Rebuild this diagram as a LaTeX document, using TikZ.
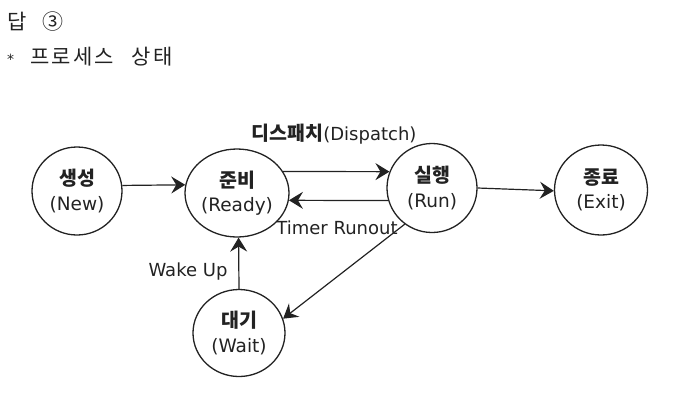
\documentclass[tikz,border=0pt]{standalone}
\usepackage{fontspec}
\setmainfont{DejaVu Sans}
\newfontfamily\kr{Noto Sans CJK KR}
\newfontfamily\krt[LetterSpace=10]{Noto Sans CJK KR}
\usetikzlibrary{shapes.geometric,arrows.meta}
\definecolor{ink}{HTML}{222222}
\tikzset{
  state/.style={ellipse, draw=ink, line width=1.3pt, align=center, inner sep=0pt, text=ink,
    font=\fontsize{18.5}{24.5}\selectfont},
  arr/.style={draw=ink, line width=1.2pt, -{Stealth[length=14pt,width=17pt,inset=5pt]}},
  lbl/.style={font=\fontsize{18}{20}\selectfont, inner sep=0pt, text=ink},
  ttl/.style={font=\krt\fontsize{21}{23}\selectfont, anchor=west, inner sep=0pt, text=ink}
}
\newcommand{\kbold}[1]{{\kr\bfseries\fontsize{19.5}{24.5}\selectfont #1}}
\begin{document}
\begin{tikzpicture}[x=1pt,y=-1pt]
\useasboundingbox (0,0) rectangle (674,416);
\node[ttl] (t1) at (7,22) {답\hspace{16pt}③};
\node[ttl] (t2) at (7,57) {\raisebox{0pt}{\fontsize{14}{14}\selectfont\rmfamily *}\hspace{16pt}프로세스\hspace{18pt}상태};

\node[state, minimum width=90pt, minimum height=88pt] (new) at (77,191) {\kbold{생성}\\(New)};
\node[state, minimum width=104pt, minimum height=88pt] (ready) at (237,193) {\kbold{준비}\\(Ready)};
\node[state, minimum width=90pt, minimum height=89pt] (run) at (432,188) {\kbold{실행}\\(Run)};
\node[state, minimum width=93pt, minimum height=90pt] (exit) at (601,190) {\kbold{종료}\\(Exit)};
\node[state, minimum width=92pt, minimum height=87pt] (wait) at (239,333) {\kbold{대기}\\(Wait)};

\draw[arr] (new.7) -- (ready.171);
\draw[arr] (ready.25) -- (run.159);
\draw[arr] (run.-164) -- (ready.-8);
\draw[arr] (run.east) -- (exit.181);
\draw[arr] (wait.north) -- (ready.-88);
\draw[arr] (run.-127) -- (wait.18);

\node[lbl] (ldisp) at (334,134) {\kbold{디스패치}(Dispatch)};
\node[lbl] (ltimer) at (337,228) {Timer Runout};
\node[lbl] (lwake) at (188,272) {Wake Up};
\end{tikzpicture}
\end{document}
